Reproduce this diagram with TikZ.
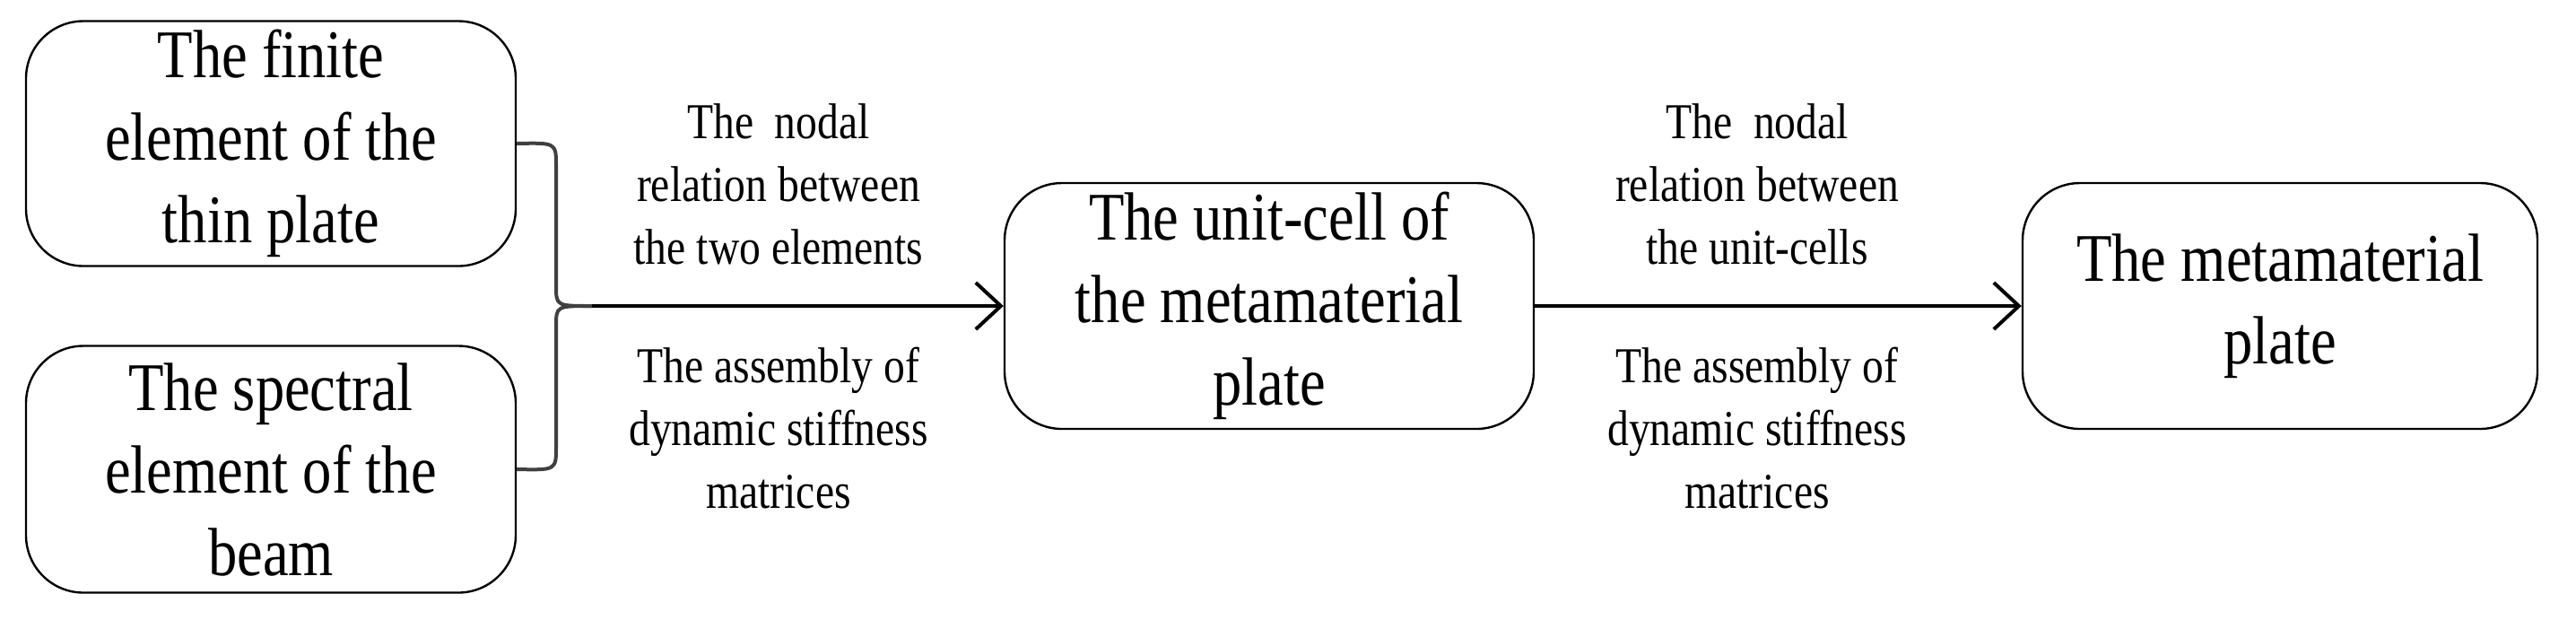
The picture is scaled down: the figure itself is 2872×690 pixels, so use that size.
\documentclass[tikz,border=0pt]{standalone}
\usepackage{fontspec}
\setmainfont{Liberation Serif}
\usetikzlibrary{arrows.meta}
\begin{document}
\begin{tikzpicture}[x=0.25pt,y=-0.25pt,
  box/.style={draw,line width=0.6pt,rounded corners=16pt,align=center,inner sep=0pt,font=\fontsize{19}{23}\selectfont},
  lab/.style={align=center,font=\fontsize{14}{17.5}\selectfont},
  conn/.style={line width=1.1pt,-{Straight Barb[length=7pt,width=13pt,line width=1pt]}}]
\useasboundingbox (0,0) rectangle (2872,690);
\node[box,minimum width=136.5pt,minimum height=68.25pt] (fe) at (302,160) {\scalebox{0.85}[1]{The finite}\\\scalebox{0.85}[1]{element of the}\\\scalebox{0.85}[1]{thin plate}};
\node[box,minimum width=136.5pt,minimum height=68.75pt] (se) at (302,523) {\scalebox{0.85}[1]{The spectral}\\\scalebox{0.85}[1]{element of the}\\\scalebox{0.85}[1]{beam}};
\node[box,minimum width=147.5pt,minimum height=68.5pt] (uc) at (1415,341) {\scalebox{0.85}[1]{The unit-cell of}\\\scalebox{0.85}[1]{the metamaterial}\\\scalebox{0.85}[1]{plate}};
\node[box,minimum width=143.5pt,minimum height=68.5pt] (mp) at (2542,341) {\scalebox{0.85}[1]{The metamaterial}\\\scalebox{0.85}[1]{plate}};
\coordinate (tip) at (660,341);
\draw[line width=1pt,black!75] (fe.east) .. controls (620,159) .. (620,185) -- (620,318) .. controls (620,341) .. (tip);
\draw[line width=1pt,black!75] (se.east) .. controls (620,524) .. (620,498) -- (620,364) .. controls (620,341) .. (tip);
\draw[conn] (tip) -- (uc.west);
\draw[conn] (uc.east) -- (mp.west);
\node[lab] (l1) at (868,205) {\scalebox{0.85}[1]{The\ \ nodal}\\\scalebox{0.85}[1]{relation between}\\\scalebox{0.85}[1]{the two elements}};
\node[lab] (l2) at (868,477) {\scalebox{0.85}[1]{The assembly of}\\\scalebox{0.85}[1]{dynamic stiffness}\\\scalebox{0.85}[1]{matrices}};
\node[lab] (l3) at (1959,205) {\scalebox{0.85}[1]{The\ \ nodal}\\\scalebox{0.85}[1]{relation between}\\\scalebox{0.85}[1]{the unit-cells}};
\node[lab] (l4) at (1959,477) {\scalebox{0.85}[1]{The assembly of}\\\scalebox{0.85}[1]{dynamic stiffness}\\\scalebox{0.85}[1]{matrices}};
\end{tikzpicture}
\end{document}
